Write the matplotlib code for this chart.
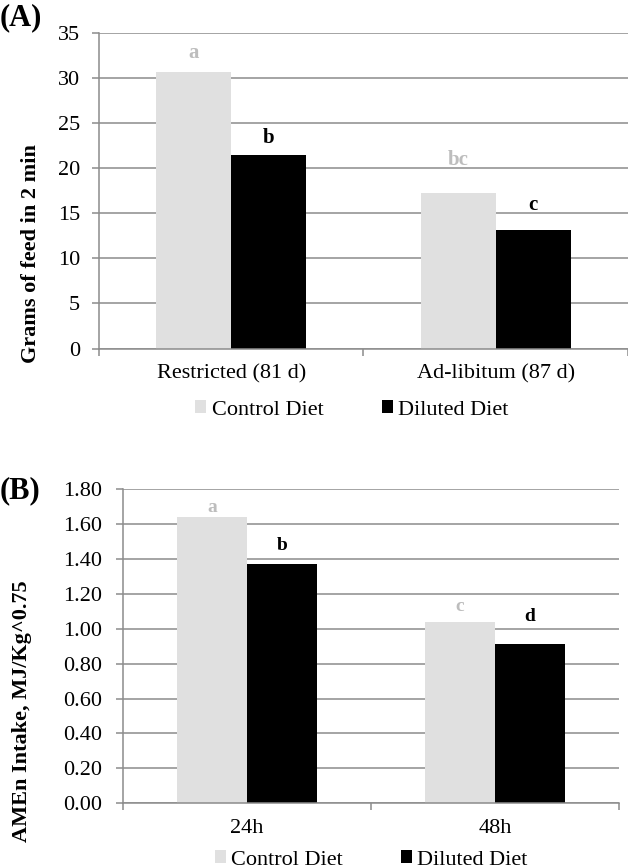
import numpy as np
import matplotlib
matplotlib.use("Agg")
import matplotlib.pyplot as plt

plt.rcParams['font.family'] = ['Liberation Serif', 'DejaVu Serif']

# panel A data
cats_a = ['Restricted (81 d)', 'Ad-libitum (87 d)']
control_a = [30.7, 17.3]
diluted_a = [21.5, 13.2]
letters_ctrl_a = ['a', 'bc']
letters_dil_a = ['b', 'c']

# panel B data
cats_b = ['24h', '48h']
control_b = [1.64, 1.04]
diluted_b = [1.37, 0.91]
letters_ctrl_b = ['a', 'c']
letters_dil_b = ['b', 'd']

series_names = ['Control Diet', 'Diluted Diet']

LIGHT = '#e0e0e0'
LETTER_GRAY = '#bdbdbd'
GRID = '#8c8c8c'
FS = 16


def draw_panel(ax, cats, ctrl, dil, l_ctrl, l_dil, pad_ctrl, pad_dil,
               ymax, ystep, fmt, letter_size, tick_pad):
    x = np.arange(len(cats))
    w = 0.283
    ax.bar(x - w / 2, ctrl, w, color=LIGHT, label=series_names[0], zorder=2)
    ax.bar(x + w / 2, dil, w, color='black', label=series_names[1], zorder=2)

    for xi, v, t, p in zip(x, ctrl, l_ctrl, pad_ctrl):
        ax.annotate(t, (xi - w / 2, v), xytext=(0, p), textcoords='offset points',
                    ha='center', va='center', fontsize=letter_size,
                    fontweight='bold', color=LETTER_GRAY)
    for xi, v, t, p in zip(x, dil, l_dil, pad_dil):
        ax.annotate(t, (xi + w / 2, v), xytext=(0, p), textcoords='offset points',
                    ha='center', va='center', fontsize=letter_size,
                    fontweight='bold', color='black')

    ax.set_xlim(-0.5, len(cats) - 0.5)
    ax.set_ylim(0, ymax)
    ticks = np.arange(0, ymax + ystep / 2, ystep)
    ax.set_yticks(ticks)
    ax.set_yticklabels([fmt % t for t in ticks], fontsize=FS)
    ax.set_xticks(x)
    ax.set_xticklabels(cats, fontsize=FS)
    ax.set_xticks(np.arange(-0.5, len(cats), 1.0), minor=True)
    ax.tick_params(axis='x', which='major', length=0, pad=11)
    ax.tick_params(axis='x', which='minor', length=5, width=1.1, color=GRID)
    ax.tick_params(axis='y', length=5, width=1.1, color=GRID, pad=tick_pad)
    ax.yaxis.grid(True, color=GRID, linewidth=1.1, zorder=0)
    ax.set_axisbelow(True)
    for s in ['top', 'right']:
        ax.spines[s].set_visible(False)
    for s in ['left', 'bottom']:
        ax.spines[s].set_color(GRID)
        ax.spines[s].set_linewidth(1.1)


fig = plt.figure(figsize=(6.28, 8.68), dpi=100)

ax1 = fig.add_axes([0.1576, 0.5985, 0.8424, 0.3631])
draw_panel(ax1, cats_a, control_a, diluted_a, letters_ctrl_a, letters_dil_a,
           [13.5, 23.5], [12, 17.5], 35, 5, '%d', 15, 8.5)
ax1.legend(loc='center', bbox_to_anchor=(0.5605, 0.5276),
           bbox_transform=fig.transFigure, ncol=2, frameon=False,
           fontsize=FS, handlelength=0.5, handleheight=0.5,
           handletextpad=0.25, columnspacing=2.6)

ax2 = fig.add_axes([0.1959, 0.0745, 0.7898, 0.3621])
draw_panel(ax2, cats_b, control_b, diluted_b, letters_ctrl_b, letters_dil_b,
           [7, 11], [13.5, 20], 1.80, 0.20, '%.2f', 14, 10)
ax2.legend(loc='center', bbox_to_anchor=(0.591, 0.0092),
           bbox_transform=fig.transFigure, ncol=2, frameon=False,
           fontsize=FS, handlelength=0.5, handleheight=0.5,
           handletextpad=0.25, columnspacing=2.6)

fig.text(31 / 628, 1 - 254 / 868, 'Grams of feed in 2 min', rotation=90,
         ha='center', va='center', fontsize=FS, fontweight='bold')
fig.text(22 / 628, 1 - 711 / 868, 'AMEn Intake, MJ/Kg^0.75', rotation=90,
         ha='center', va='center', fontsize=FS, fontweight='bold')

fig.text(0.0, 1 - 18 / 868, '(A)', ha='left', va='center',
         fontsize=22, fontweight='bold')
fig.text(0.0, 1 - 491 / 868, '(B)', ha='left', va='center',
         fontsize=22, fontweight='bold')

fig.savefig('out.png', dpi=100)
